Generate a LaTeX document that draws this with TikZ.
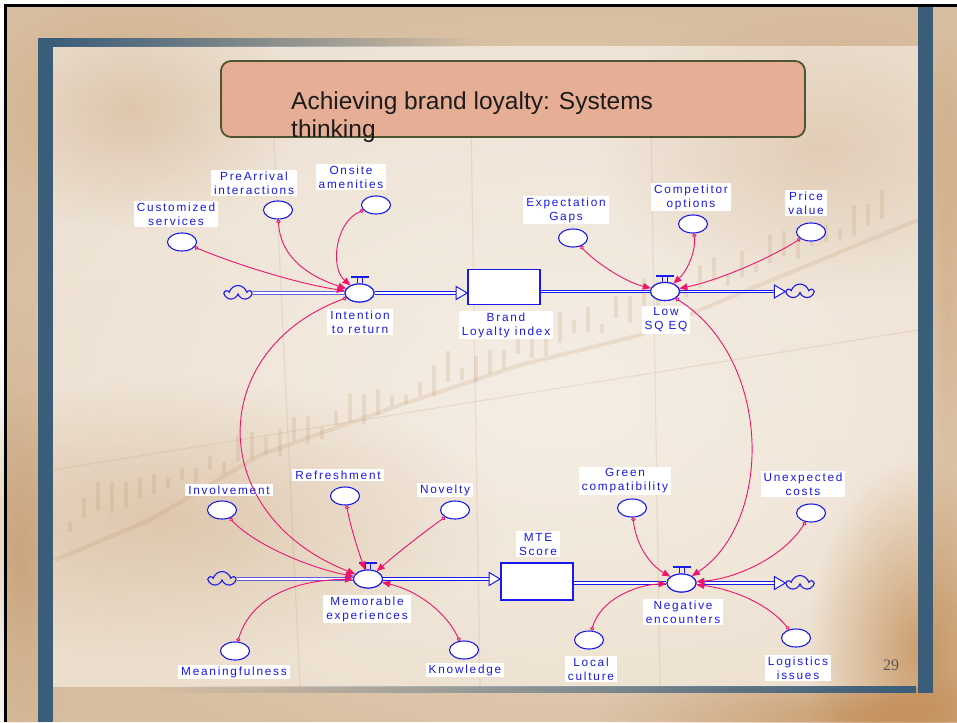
\documentclass[tikz,border=0pt]{standalone}
\usepackage{fontspec}
\setmainfont{Liberation Sans}
\newfontfamily\lblfamily[LetterSpace=15]{Liberation Sans}
\newfontfamily\numfamily{Liberation Serif}
\usetikzlibrary{shapes.geometric,shapes.symbols,arrows.meta,calc,fadings}

\definecolor{vblue}{RGB}{25,25,235}
\definecolor{lpink}{RGB}{240,20,110}
\definecolor{barblue}{RGB}{58,94,122}
\definecolor{outertan}{RGB}{216,190,160}
\definecolor{paneltop}{RGB}{238,226,212}
\definecolor{panelbot}{RGB}{236,222,204}
\definecolor{chartbrown}{RGB}{185,135,85}
\definecolor{deepbrown}{RGB}{190,130,70}
\definecolor{titlefill}{RGB}{230,174,148}
\definecolor{titleedge}{RGB}{78,84,52}
\definecolor{titletext}{RGB}{28,28,28}

\tikzfading[name=barfadeR, left color=transparent!0, right color=transparent!100]
\tikzfading[name=barfadeL, left color=transparent!100, right color=transparent!0]
\tikzfading[name=softspot, inner color=transparent!0, outer color=transparent!100]

\newcommand\lblfont{\lblfamily\fontsize{11.8}{14}\selectfont}
\newcommand\titlefont{\fontsize{24.5}{28}\selectfont}

\tikzset{
  aux/.style={ellipse, draw=vblue, line width=1.1pt, fill=white,
    minimum width=29pt, minimum height=18pt, inner sep=0},
  valve/.style={aux},
  stock/.style={rectangle, draw=vblue, line width=1.8pt, fill=white,
    minimum width=72pt, minimum height=35pt, inner sep=0},
  cloudsym/.style={cloud, cloud puffs=5, aspect=1.8, draw=vblue, line width=1.1pt,
    minimum width=25pt, minimum height=15pt, inner sep=0},
  lbl/.style={fill=white, text=vblue, font=\lblfont, align=center,
    inner xsep=3pt, inner ysep=1.5pt},
  pipe/.style={draw=vblue, line width=0.9pt, double=white, double distance=1.6pt},
  pipetip/.style={draw=vblue, fill=white, line width=1pt, line join=miter},
  link/.style={draw=lpink, line width=0.9pt,
    {Circle[open,length=4pt,width=4pt]}-{Triangle[length=8pt,width=6.5pt]}},
  blob/.style={path fading=softspot},
}

\begin{document}
\begin{tikzpicture}[x=1pt, y=-1pt]
\useasboundingbox (0,0) rectangle (957,722);

% ---------- slide background ----------
\fill[white] (0,0) rectangle (957,722);
\fill[outertan] (4,4) rectangle (957,722);
\fill[chartbrown, opacity=.35, blob] (22,560) ellipse (50 and 260);
\fill[deepbrown, opacity=.6, blob] (860,715) ellipse (260 and 50);
\fill[deepbrown, opacity=.35, blob] (948,300) ellipse (30 and 260);

% inner panel
\shade[top color=paneltop, bottom color=panelbot] (53,47) rectangle (918,686);
\fill[white, opacity=.45, blob] (560,400) ellipse (600 and 400);
\fill[chartbrown, opacity=.30, blob] (130,110) ellipse (170 and 120);
\fill[chartbrown, opacity=.30, blob] (170,520) ellipse (330 and 140);
\fill[deepbrown, opacity=.7, blob] (918,650) ellipse (110 and 190);
\fill[chartbrown, opacity=.25, blob] (820,150) ellipse (220 and 150);

% faint stock chart
\begin{scope}[chartbrown, opacity=.16]
  \draw[line width=1.2pt] (270,60) -- (300,686);
  \draw[line width=1.2pt] (470,60) -- (480,686);
  \draw[line width=1.2pt] (650,60) -- (660,686);
  \draw[line width=1.2pt] (53,470) -- (918,330);
  \draw[line width=4pt, line join=round] (55,560) -- (150,520) -- (260,455)
    -- (400,405) -- (520,365) -- (640,335) -- (760,285) -- (918,220);
  \pgfmathsetseed{7}
  \foreach \i in {0,...,58} {
    \pgfmathsetmacro\xx{70+\i*14}
    \pgfmathsetmacro\yy{520-\i*5.2+14*rnd}
    \pgfmathsetmacro\hh{8+24*rnd}
    \draw[line width=3.2pt] (\xx,\yy) -- (\xx,\yy-\hh);
  }
\end{scope}

% frame
\fill[black] (4,4) rectangle (957,7);
\fill[black] (4,4) rectangle (7,722);
\fill[barblue] (38,38) rectangle (53,722);
\fill[barblue] (918,7) rectangle (933,693);
\fill[barblue, path fading=barfadeR] (53,38) rectangle (480,47);
\fill[barblue, path fading=barfadeL] (150,686) rectangle (918,693);

% title
\fill[titlefill, rounded corners=10pt] (221,61) rectangle (805,137);
\draw[titleedge, line width=1.8pt, rounded corners=10pt] (221,61) rectangle (805,137);
\node[anchor=north west, inner sep=0, align=left, font=\titlefont, text=titletext]
  (title) at (291,92) {Achieving brand loyalty: Systems\\thinking};

\node[font=\numfamily\fontsize{16}{16}\selectfont, text=black!65] (pagenum) at (891,665) {29};

% ---------- labels ----------
\node[lbl] (Lcust)   at (176,214) {Customized\\services};
\node[lbl] (Lpre)    at (254,183) {PreArrival\\interactions};
\node[lbl] (Lonsite) at (351,177) {Onsite\\amenities};
\node[lbl] (Lintent) at (360,322) {Intention\\to return};
\node[lbl] (Lbrand)  at (506,325) {Brand\\Loyalty index};
\node[lbl] (Lexpect) at (566,210) {Expectation\\Gaps};
\node[lbl] (Lcomp)   at (691,197) {Competitor\\options};
\node[lbl] (Lprice)  at (806,203) {Price\\value};
\node[lbl] (Llow)    at (666,320) {Low\\SQ EQ};
\node[lbl] (Linvol)  at (229,490) {Involvement};
\node[lbl] (Lrefr)   at (338,475) {Refreshment};
\node[lbl] (Lnov)    at (445,490) {Novelty};
\node[lbl] (Lmemo)   at (367,609) {Memorable\\experiences};
\node[lbl] (Lmte)    at (538,544) {MTE\\Score};
\node[lbl] (Lmean)   at (234,672) {Meaningfulness};
\node[lbl] (Lknow)   at (465,670) {Knowledge};
\node[lbl] (Lgreen)  at (625,481) {Green\\compatibility};
\node[lbl] (Lunexp)  at (803,484) {Unexpected\\costs};
\node[lbl] (Lneg)    at (683,612) {Negative\\encounters};
\node[lbl] (Llocal)  at (591,669) {Local\\culture};
\node[lbl] (Llogis)  at (798,668) {Logistics\\issues};

% ---------- stocks, flows, clouds ----------
\node[cloudsym] (c1) at (238,293) {};
\node[cloudsym] (c2) at (800,291.5) {};
\node[cloudsym] (c3) at (222,579) {};
\node[cloudsym] (c4) at (800,583) {};

\node[stock] (brand) at (504,287) {};
\node[stock, minimum height=37pt] (mte) at (537,581.5) {};

\node[valve] (intent) at (359.5,293) {};
\node[valve] (low)    at (665,291.5) {};
\node[valve] (memo)   at (368,579) {};
\node[valve] (neg)    at (681.5,583) {};

% pipes
\coordinate (tipA) at (intent -| brand.west);
\coordinate (tipB) at (low -| c2.west);
\coordinate (tipC) at (memo -| mte.west);
\coordinate (tipD) at (neg -| c4.west);
\draw[pipe] (c1) -- (intent);
\draw[pipe] (intent) -- ($(tipA)+(-10,0)$);
\draw[pipe] (brand.east |- low) -- (low);
\draw[pipe] (low) -- ($(tipB)+(-10,0)$);
\draw[pipe] (c3) -- (memo);
\draw[pipe] (memo) -- ($(tipC)+(-10,0)$);
\draw[pipe] (mte.east |- neg) -- (neg);
\draw[pipe] (neg) -- ($(tipD)+(-10,0)$);
\foreach \t in {tipA,tipB,tipC,tipD}
  \draw[pipetip] (\t) -- ++(-11,-6.5) -- ++(0,13) -- cycle;

% redraw valves over the pipes, with their handles
\foreach \v in {intent,low,memo,neg} {
  \node[valve] at (\v) {};
  \draw[vblue, line width=2pt] ($(\v.north)+(-9,-6)$) -- ($(\v.north)+(9,-6)$);
  \draw[vblue, line width=0.8pt] ($(\v.north)+(-2.5,-6)$) -- ($(\v.north)+(-2.5,0)$)
                                 ($(\v.north)+(2.5,-6)$) -- ($(\v.north)+(2.5,0)$);
}

% ---------- auxiliaries ----------
\node[aux] (cust)   at (182,242) {};
\node[aux] (pre)    at (278,210) {};
\node[aux] (onsite) at (376,205) {};
\node[aux] (expect) at (573,238) {};
\node[aux] (comp)   at (693,224) {};
\node[aux] (price)  at (811,232) {};
\node[aux] (invol)  at (222,510) {};
\node[aux] (refr)   at (345,496) {};
\node[aux] (nov)    at (455,510) {};
\node[aux] (mean)   at (235,651) {};
\node[aux] (know)   at (464,650) {};
\node[aux] (green)  at (632,508) {};
\node[aux] (unexp)  at (811,513) {};
\node[aux] (local)  at (589,640) {};
\node[aux] (logis)  at (796,638) {};

% ---------- causal links ----------
\draw[link] (cust)   .. controls (240,266) and (300,284) .. (intent);
\draw[link] (pre)    .. controls (280,255) and (305,275) .. (intent);
\draw[link] (onsite) .. controls (335,222) and (330,268) .. (intent);
\draw[link] (expect) .. controls (595,262) and (625,282) .. (low);
\draw[link] (comp)   .. controls (696,250) and (688,270) .. (low);
\draw[link] (price)  .. controls (770,258) and (720,280) .. (low);
\draw[link] (intent) .. controls (205,350) and (205,515) .. (memo);
\draw[link] (low)    .. controls (773,360) and (773,522) .. (neg);
\draw[link] (invol)  .. controls (255,545) and (310,568) .. (memo);
\draw[link] (refr)   .. controls (350,525) and (358,550) .. (memo);
\draw[link] (nov)    .. controls (420,535) and (395,555) .. (memo);
\draw[link] (mean)   .. controls (250,600) and (290,580) .. (memo);
\draw[link] (know)   .. controls (445,610) and (415,590) .. (memo);
\draw[link] (green)  .. controls (636,545) and (650,565) .. (neg);
\draw[link] (unexp)  .. controls (785,555) and (740,578) .. (neg);
\draw[link] (local)  .. controls (600,600) and (635,585) .. (neg);
\draw[link] (logis)  .. controls (765,600) and (725,588) .. (neg);
\end{tikzpicture}
\end{document}
